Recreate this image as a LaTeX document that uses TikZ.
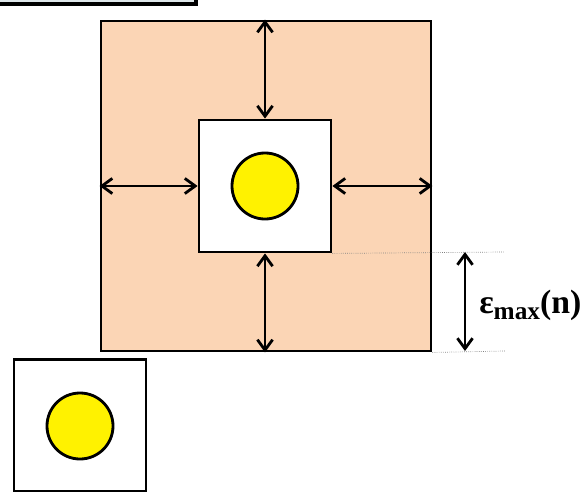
\documentclass[tikz,border=0pt]{standalone}
\usepackage{fontspec}
\setmainfont{Liberation Serif}
\usetikzlibrary{arrows.meta}
\definecolor{peach}{RGB}{251,213,181}
\definecolor{capgray}{RGB}{222,231,234}
\tikzset{
	box/.style={draw,line width=2pt,fill=white,minimum width=3.3cm,minimum height=3.3cm,inner sep=0pt},
	ball/.style={draw,line width=2pt,fill=yellow,circle,minimum size=1.65cm,inner sep=0pt},
	gap/.style={line width=2pt,{Straight Barb[length=2.6mm,width=3.8mm]}-{Straight Barb[length=2.6mm,width=3.8mm]}},
	guide/.style={gray,densely dotted,line width=0.5pt}
}
\begin{document}
\begin{tikzpicture}[x=0.025cm,y=-0.025cm]
	\useasboundingbox (0,0) rectangle (584,492);
	\clip (0,0) rectangle (584,492);
	% cut-off box at the top
	\draw [fill=capgray,line width=3pt] (-20,-40) rectangle (196,4);
	% outer and inner squares
	\node [box,fill=peach,minimum width=8.25cm,minimum height=8.25cm] (outer) at (266,186) {};
	\node [box] (inner) at (265,186) {};
	\node [ball] (core) at (265,186) {};
	\draw [gap] (outer.north -| inner.north) -- (inner.north);
	\draw [gap] (inner.south) -- (outer.south -| inner.south);
	\draw [gap] (outer.west |- inner.west) -- (inner.west);
	\draw [gap] (inner.east) -- (outer.east |- inner.east);
	% guides for the gap
	\coordinate (gtop) at (505,252);
	\coordinate (gbot) at (505,351);
	\draw [guide] (inner.south east) -- (gtop);
	\draw [guide] (outer.south east) -- (gbot);
	\coordinate (atop) at (465,252);
	\coordinate (abot) at (465,351);
	\draw [gap] (atop) -- (abot);
	\node [anchor=base west,inner sep=0pt] (eps) at (479,313) {\fontsize{24}{24}\selectfont\bfseries ε\raisebox{-0.2em}{\fontsize{18}{18}\selectfont max}(n)};
	% small square on its own
	\node [box] (lone) at (80,425.5) {};
	\node [ball] (lonecore) at (80,426) {};
\end{tikzpicture}
\end{document}
